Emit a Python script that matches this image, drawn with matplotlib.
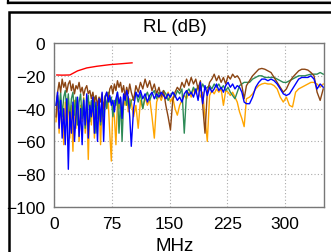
import numpy as np
import matplotlib.pyplot as plt
from matplotlib.patches import Rectangle
from matplotlib.lines import Line2D

plt.rcParams['font.family'] = ['Liberation Sans', 'DejaVu Sans']

# frequency grids (MHz)
f_lo = np.arange(2, 101, 2)
f_mid = np.arange(103, 251, 3)
f_hi = np.arange(254, 351, 4)
freq = np.concatenate([f_lo, f_mid, f_hi])

blue = [-38, -30, -52, -35, -58, -40, -62, -34, -77, -42, -55, -36, -60, -44, -33, -57, -40, -62, -35, -50,
        -31, -58, -38, -45, -33, -55, -36, -60, -34, -48, -30, -60, -33, -30, -36, -32, -38, -35, -42, -34,
        -30, -37, -33, -46, -31, -35, -29, -33, -45, -63,
        -40, -30, -33, -29, -34, -31, -36, -32, -30, -34, -31, -33, -30, -32, -34, -31, -33, -30, -32, -35,
        -33, -36, -31, -29, -32, -30, -33, -28, -35, -24, -37, -26, -32, -27, -30, -28, -25, -29, -27, -30,
        -26, -24, -27, -25, -28, -26, -27, -30, -36, -37,
        -37, -33, -27, -24, -22, -22, -23, -22, -23, -25, -28, -31, -32, -31, -28, -25, -22, -21, -21, -21,
        -20, -22, -28, -25, -27]

brown = [-45, -30, -24, -30, -22, -27, -24, -30, -25, -23, -29, -25, -31, -26, -28, -24, -30, -27, -32, -28,
         -26, -31, -29, -34, -30, -36, -32, -38, -33, -36, -31, -40, -33, -30, -35, -28, -26, -31, -25, -29,
         -23, -27, -24, -30, -26, -33, -27, -31, -25, -30,
         -35, -26, -30, -24, -28, -22, -27, -23, -29, -25, -31, -27, -33, -29, -38, -45, -53, -35, -30, -27,
         -29, -24, -27, -22, -26, -21, -25, -22, -28, -23, -38, -55, -30, -24, -22, -19, -23, -20, -24, -21,
         -25, -20, -22, -19, -21, -20, -22, -26, -34, -26,
         -23, -20, -18, -16, -15.5, -16, -17, -18, -21, -24, -27, -30, -28, -24, -21, -19, -17, -16, -16, -16.5,
         -18, -20, -30, -35, -28]

green = [-38, -32, -40, -30, -45, -33, -29, -42, -31, -48, -34, -30, -44, -33, -50, -36, -31, -46, -34, -52,
         -37, -32, -48, -35, -42, -33, -55, -38, -34, -50, -36, -45, -32, -40, -30, -36, -33, -45, -35, -38,
         -30, -55, -34, -60, -36, -31, -38, -33, -40, -35,
         -34, -30, -36, -31, -40, -33, -30, -35, -31, -29, -34, -30, -32, -29, -31, -35, -32, -30, -33, -29,
         -31, -28, -55, -30, -28, -31, -27, -30, -26, -29, -25, -28, -27, -26, -28, -25, -27, -25, -28, -26,
         -29, -27, -30, -32, -34, -30, -26, -25, -24, -24,
         -24, -22, -21, -20, -20, -21, -21, -21, -21, -22, -23, -24, -24, -23, -22, -21, -20, -20, -20, -19.5,
         -19, -19, -19, -18, -19]

orange = [-48, -32, -55, -35, -40, -62, -36, -50, -33, -58, -38, -66, -35, -52, -34, -60, -38, -48, -33, -55,
          -37, -71, -36, -50, -34, -58, -38, -46, -35, -62, -37, -50, -34, -40, -36, -55, -72, -38, -45, -62,
          -36, -40, -33, -48, -35, -38, -30, -42, -34, -36,
          -45, -38, -52, -35, -40, -33, -38, -34, -45, -58, -36, -32, -35, -31, -34, -30, -36, -33, -40, -44,
          -38, -35, -32, -34, -30, -33, -28, -31, -27, -33, -30, -45, -60, -32, -29, -31, -28, -30, -28, -38,
          -29, -30, -32, -30, -33, -36, -42, -46, -51, -34,
          -33, -31, -28, -26, -25, -24.5, -25, -25, -26, -28, -33, -36, -33, -38, -39, -30, -28, -27, -26, -25,
          -24, -24, -25, -27, -25]

red_f = [3, 10, 20, 30, 42, 55, 72, 88, 101]
red = [-19.5, -19.6, -19.5, -17.0, -15.2, -14.2, -13.2, -12.6, -12.1]

fig = plt.figure(figsize=(3.31, 2.53), dpi=100)
ax = fig.add_axes([54.5 / 331, 1 - 208 / 253, 269.5 / 331, 164 / 253])

ax.plot(freq, orange, color='#FFA500', lw=1)
ax.plot(freq, green, color='#2E8B57', lw=1)
ax.plot(freq, brown, color='#8B4513', lw=1)
ax.plot(freq, blue, color='#0000FF', lw=1)
ax.plot(red_f, red, color='#FF0000', lw=1)

ax.set_xlim(0, 351)
ax.set_ylim(-100, 0)
ax.set_xticks([0, 75, 150, 225, 300])
ax.set_yticks([-100, -80, -60, -40, -20, 0])
ax.tick_params(length=0, labelsize=12.5, pad=6.5)
ax.grid(True, color='#aaaaaa', linestyle=(0, (1, 2)), lw=0.8)
for s in ax.spines.values():
    s.set_color('#777777')
    s.set_linewidth(1)

fig.text(175 / 331, 1 - 28 / 253, 'RL (dB)', ha='center', va='center', fontsize=13.5)
fig.text(175 / 331, 1 - 238 / 253, 'MHz', ha='center', va='top', fontsize=13.5)

# panel borders
fig.add_artist(Line2D([8 / 331, 1], [1 - 1.5 / 253, 1 - 1.5 / 253], color='#999999', lw=0.8))
fig.add_artist(Line2D([8 / 331, 1], [1 - 3.5 / 253, 1 - 3.5 / 253], color='black', lw=1.6))
fig.add_artist(Line2D([8 / 331, 8 / 331], [1, 1 - 3.5 / 253], color='black', lw=1.6))
fig.add_artist(Rectangle((9 / 331, -0.1), 1.0, 1.1 - 12.5 / 253, fill=False,
                         edgecolor='black', lw=1.8, transform=fig.transFigure))

fig.savefig('out.png', dpi=100)
